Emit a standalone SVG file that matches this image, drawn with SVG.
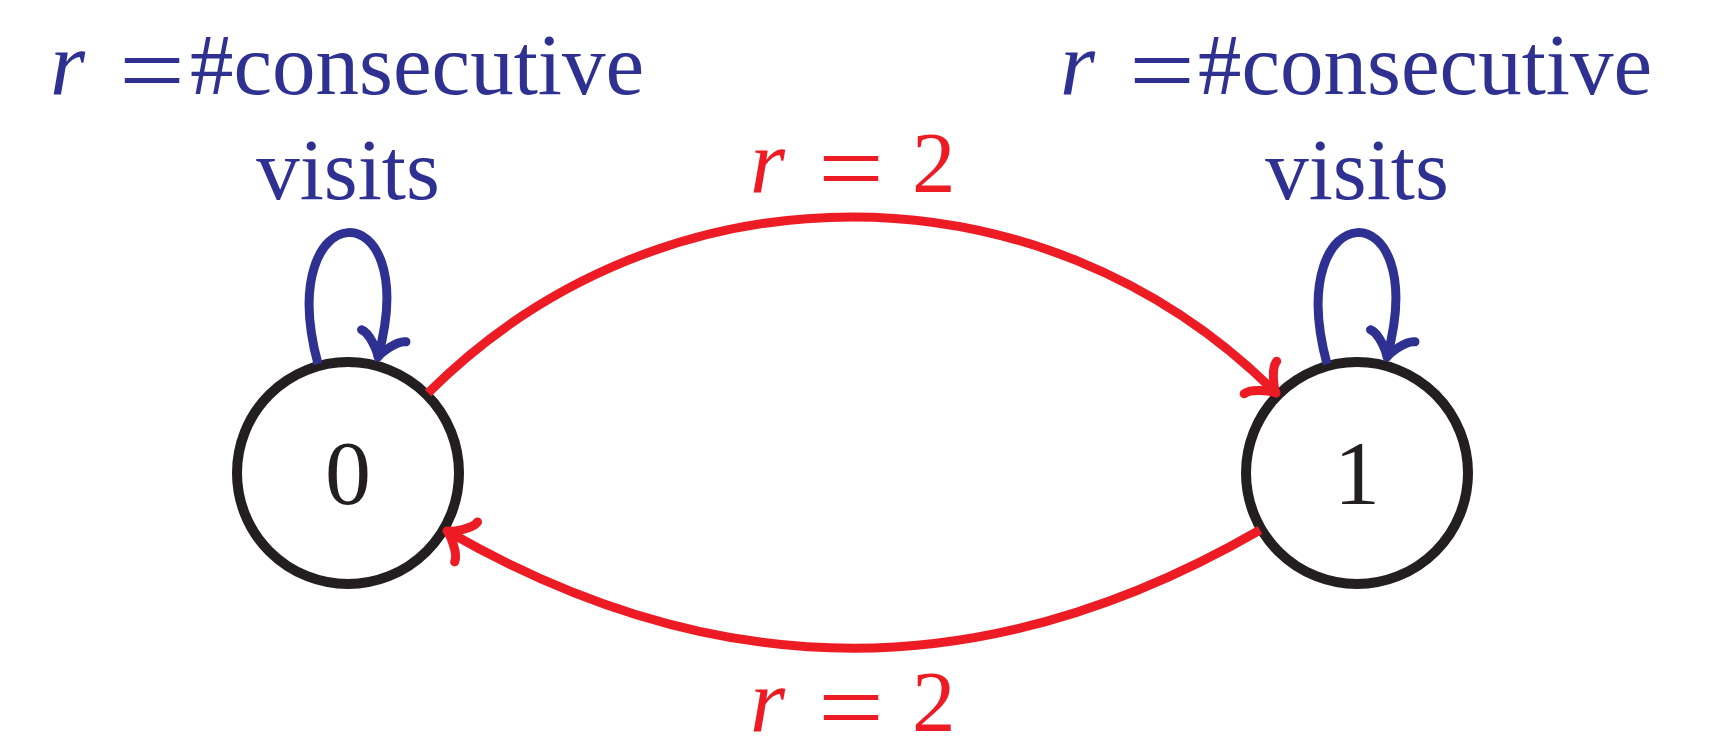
<svg xmlns="http://www.w3.org/2000/svg" width="1729" height="737" viewBox="0 0 1729 737">
  <style>
    .node { fill: #ffffff; stroke: #231f20; stroke-width: 10; }
    .nlabel { font-family: "Liberation Serif", serif; font-size: 92px; fill: #231f20; text-anchor: middle; }
    .red { fill: none; stroke: #ed1c24; stroke-width: 9; }
    .blue { fill: none; stroke: #2e3192; stroke-width: 9; }
    .t { font-family: "Liberation Serif", serif; font-size: 87px; }
    .mi { font-family: "Liberation Serif", serif; font-style: italic; font-size: 90px; }
    .eq { font-family: "Liberation Serif", serif; font-size: 100px; }
    .tb { fill: #2e3192; }
    .tr { fill: #ed1c24; }
  </style>
  <defs>
    <marker id="arrRed" markerUnits="userSpaceOnUse" orient="auto" refX="0" refY="0" markerWidth="60" markerHeight="60" viewBox="-30 -30 60 60" overflow="visible">
      <path d="M -22,-23 C -21,-14 -5,-2 0,0 C -5,2 -21,14 -22,23" fill="none" stroke="#ed1c24" stroke-width="9" stroke-linecap="round" stroke-linejoin="round"/>
    </marker>
    <marker id="arrBlue" markerUnits="userSpaceOnUse" orient="auto" refX="0" refY="0" markerWidth="60" markerHeight="60" viewBox="-30 -30 60 60" overflow="visible">
      <path d="M -22,-23 C -21,-14 -5,-2 0,0 C -5,2 -21,14 -22,23" fill="none" stroke="#2e3192" stroke-width="9" stroke-linecap="round" stroke-linejoin="round"/>
    </marker>
  </defs>

  <g id="node-0">
    <circle class="node" cx="348" cy="473" r="111"/>
    <text class="nlabel" x="348" y="504">0</text>
  </g>
  <g id="node-1">
    <circle class="node" cx="1357" cy="473" r="111"/>
    <text class="nlabel" x="1357" y="504">1</text>
  </g>

  <g id="connectors">
    <path class="red" d="M 428,393 C 662.8,158.2 1041.2,158.2 1276,393" marker-end="url(#arrRed)"/>
    <path class="red" d="M 1260,530 C 987.2,687.5 719.8,687.5 447,531" marker-end="url(#arrRed)"/>
    <path class="blue" d="M 318,364 C 272,193 424,187 378,357" marker-end="url(#arrBlue)"/>
    <path class="blue" d="M 1327,364 C 1281,193 1433,187 1387,357" marker-end="url(#arrBlue)"/>
  </g>

  <g id="labels">
    <g id="label-loop-0" class="tb">
      <text class="mi" x="50" y="94">r</text>
      <text class="eq" x="119" y="104" textLength="66" lengthAdjust="spacingAndGlyphs">=</text>
      <text class="t" x="190" y="94">#consecutive</text>
      <text class="t" x="348" y="199" text-anchor="middle">visits</text>
    </g>
    <g id="label-loop-1" class="tb">
      <text class="mi" x="1060" y="94">r</text>
      <text class="eq" x="1129" y="104" textLength="66" lengthAdjust="spacingAndGlyphs">=</text>
      <text class="t" x="1198" y="94">#consecutive</text>
      <text class="t" x="1357" y="199" text-anchor="middle">visits</text>
    </g>
    <g id="label-0-1" class="tr">
      <text class="mi" x="750" y="192">r</text>
      <text class="eq" x="818" y="202" textLength="66" lengthAdjust="spacingAndGlyphs">=</text>
      <text class="t" x="912" y="192">2</text>
    </g>
    <g id="label-1-0" class="tr">
      <text class="mi" x="750" y="731">r</text>
      <text class="eq" x="818" y="741" textLength="66" lengthAdjust="spacingAndGlyphs">=</text>
      <text class="t" x="912" y="731">2</text>
    </g>
  </g>
</svg>
